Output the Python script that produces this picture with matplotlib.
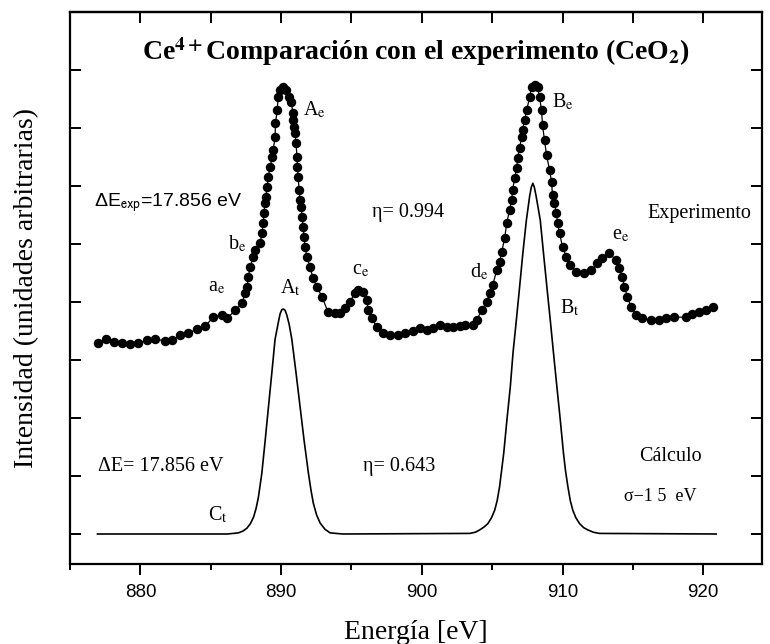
import matplotlib
matplotlib.use("Agg")
import matplotlib.pyplot as plt
from matplotlib.ticker import MultipleLocator

plt.rcParams['font.family'] = ['Liberation Serif', 'DejaVu Serif']

# experimental spectrum (eV, arbitrary intensity)
exp_energy = [876.95, 877.52, 878.09, 878.72, 879.29, 879.86, 880.50, 881.06, 881.77, 882.27,
              882.84, 883.40, 884.04, 884.61, 885.18, 885.82, 886.17, 886.74, 887.23, 887.45,
              887.59, 887.66, 887.80, 888.01, 888.16, 888.51, 888.65, 888.72, 888.78, 888.85,
              888.90, 889.01, 889.08, 889.22, 889.36, 889.43, 889.57, 889.60, 889.72, 889.79,
              889.93, 890.14, 890.35, 890.57, 890.71, 890.85, 890.88, 890.92, 890.99, 891.06,
              891.13, 891.16, 891.21, 891.28, 891.35, 891.42, 891.49, 891.56, 891.63, 891.70,
              891.84, 892.06, 892.27, 892.55, 892.91, 893.33, 893.83, 894.18, 894.54, 894.89,
              895.25, 895.46, 895.82, 896.10, 896.17, 896.45, 896.81, 897.23, 897.73, 898.30,
              898.79, 899.36, 899.86, 900.35, 900.78, 901.28, 901.77, 902.20, 902.70, 903.05,
              903.62, 903.90, 904.26, 904.61, 904.82, 905.04, 905.32, 905.53, 905.67, 905.89,
              906.03, 906.24, 906.38, 906.45, 906.60, 906.74, 906.81, 906.95, 907.09, 907.16,
              907.30, 907.45, 907.66, 907.80, 908.01, 908.23, 908.37, 908.51, 908.58, 908.72,
              908.87, 909.08, 909.22, 909.29, 909.43, 909.57, 909.65, 909.79, 910.00, 910.28,
              910.50, 910.99, 911.56, 912.06, 912.48, 912.84, 913.33, 913.83, 914.04, 914.26,
              914.40, 914.61, 914.89, 915.25, 915.67, 916.31, 916.88, 917.38, 917.94, 918.79,
              919.22, 919.72, 920.21, 920.71]
exp_intensity = [3.29, 3.36, 3.31, 3.29, 3.28, 3.29, 3.34, 3.36, 3.33, 3.34,
                 3.43, 3.47, 3.53, 3.59, 3.74, 3.78, 3.72, 3.86, 3.98, 4.16,
                 4.26, 4.43, 4.60, 4.78, 4.90, 5.02, 5.19, 5.36, 5.53, 5.71,
                 5.81, 5.98, 6.16, 6.33, 6.50, 6.62, 6.84, 7.09, 7.31, 7.53,
                 7.66, 7.71, 7.66, 7.53, 7.45, 7.26, 7.14, 7.02, 6.91, 6.74,
                 6.50, 6.33, 6.16, 5.93, 5.76, 5.64, 5.47, 5.29, 5.12, 4.95,
                 4.78, 4.60, 4.41, 4.26, 4.09, 3.83, 3.81, 3.81, 3.90, 4.00,
                 4.16, 4.21, 4.17, 4.03, 3.86, 3.72, 3.57, 3.47, 3.43, 3.43,
                 3.47, 3.50, 3.55, 3.52, 3.55, 3.60, 3.57, 3.57, 3.59, 3.60,
                 3.60, 3.69, 3.86, 4.00, 4.16, 4.29, 4.55, 4.69, 4.86, 5.10,
                 5.36, 5.59, 5.76, 5.93, 6.14, 6.31, 6.48, 6.66, 6.84, 6.97,
                 7.14, 7.31, 7.53, 7.71, 7.74, 7.71, 7.53, 7.31, 7.05, 6.79,
                 6.53, 6.28, 6.07, 5.84, 5.71, 5.53, 5.36, 5.19, 4.95, 4.78,
                 4.64, 4.52, 4.50, 4.55, 4.67, 4.76, 4.84, 4.72, 4.59, 4.43,
                 4.26, 4.09, 3.91, 3.78, 3.72, 3.69, 3.69, 3.72, 3.74, 3.74,
                 3.79, 3.83, 3.86, 3.91]

# calculated spectrum
calc_energy = [876.95, 884.00, 886.15, 886.60, 886.97, 887.28, 887.57, 887.82, 888.04, 888.22,
               888.39, 888.63, 888.87, 889.10, 889.34, 889.57, 889.81, 889.93, 890.05, 890.16,
               890.28, 890.40, 890.57, 890.76, 891.06, 891.35, 891.63, 891.94, 892.12, 892.29,
               892.52, 892.77, 893.12, 893.48, 893.90, 894.40, 903.40, 903.80, 904.11, 904.42,
               904.70, 904.95, 905.18, 905.36, 905.53, 905.82, 906.05, 906.29, 906.48, 906.72,
               906.95, 907.18, 907.43, 907.66, 907.78, 907.89, 908.00, 908.13, 908.42, 908.65,
               908.89, 909.13, 909.36, 909.60, 909.84, 910.07, 910.22, 910.38, 910.55, 910.73,
               910.95, 911.21, 911.50, 911.80, 912.20, 912.62, 920.92]
calc_intensity = [0.0, 0.0, 0.0, 0.01, 0.02, 0.05, 0.10, 0.18, 0.29, 0.44,
                  0.64, 1.05, 1.62, 2.19, 2.78, 3.36, 3.66, 3.80, 3.87, 3.88,
                  3.86, 3.78, 3.62, 3.36, 2.78, 2.19, 1.62, 1.05, 0.76, 0.53,
                  0.33, 0.19, 0.08, 0.02, 0.01, 0.0, 0.01, 0.03, 0.07, 0.12,
                  0.18, 0.28, 0.41, 0.58, 0.82, 1.39, 1.97, 2.54, 3.12, 3.69,
                  4.26, 4.84, 5.41, 5.82, 5.98, 6.05, 5.98, 5.82, 5.41, 4.84,
                  4.26, 3.69, 3.12, 2.54, 1.97, 1.39, 1.08, 0.82, 0.58, 0.41,
                  0.28, 0.18, 0.11, 0.07, 0.03, 0.01, 0.0]

fig = plt.figure(figsize=(7.7, 6.44), dpi=100)
ax = fig.add_axes([0.091, 0.124, 0.899, 0.857])

ax.plot(calc_energy, calc_intensity, color='black', lw=1.2)
ax.plot(exp_energy, exp_intensity, '-o', color='black', lw=0.9, markersize=5.8)

ax.set_xlim(875.0, 924.2)
ax.set_ylim(-0.52, 9.0)

for s in ax.spines.values():
    s.set_linewidth(1.6)

ax.xaxis.set_major_locator(MultipleLocator(10))
ax.xaxis.set_minor_locator(MultipleLocator(5))
ax.tick_params(axis='x', which='major', direction='out', length=8, width=1.4, pad=6,
               labelsize=13.5, labelfontfamily='Liberation Sans')
ax.tick_params(axis='x', which='minor', direction='out', length=4, width=1.4)
ax.set_yticks(range(9))
ax.tick_params(axis='y', direction='in', left=True, right=True, labelleft=False,
               length=8, width=1.4)

top = ax.secondary_xaxis('top')
top.set_xticks(range(880, 925, 5))
top.tick_params(direction='in', length=8, width=1.4, labeltop=False)
top.spines['top'].set_linewidth(1.6)

ax.set_xlabel('Energía [eV]', fontsize=20, labelpad=14)
ax.set_ylabel('Intensidad (unidades arbitrarias)', fontsize=20, labelpad=22)

ax.set_title(r'Ce$^{\mathbf{4+}}$Comparación con el experimento (CeO$_{\mathbf{2}}$)',
             fontsize=20, fontweight='bold', math_fontfamily='stix', y=0.898)


def label(x, y, s, size=14.5, **kw):
    kw.setdefault('math_fontfamily', 'stix')
    ax.text(x, y, s, fontsize=size, ha='left', va='center', **kw)


# peak labels
label(891.56, 7.31, r'A$_{\rm e}$')
label(886.24, 5.00, r'b$_{\rm e}$')
label(884.82, 4.26, r'a$_{\rm e}$')
label(895.04, 4.55, r'c$_{\rm e}$')
label(889.93, 4.24, r'A$_{\rm t}$')
label(909.22, 7.45, r'B$_{\rm e}$')
label(903.40, 4.52, r'd$_{\rm e}$')
label(909.79, 3.90, r'B$_{\rm t}$')
label(913.55, 5.16, r'e$_{\rm e}$')
label(884.82, 0.33, r'C$_{\rm t}$')

# annotations
label(876.70, 5.71, r'ΔE$_{\rm exp}$=17.856 eV', size=14, family='Liberation Sans',
      math_fontfamily='stixsans')
label(896.45, 5.55, 'η= 0.994')
label(916.03, 5.53, 'Experimento')
label(876.95, 1.16, 'ΔE= 17.856 eV')
label(895.82, 1.16, 'η= 0.643')
label(915.46, 1.33, 'Cálculo')
label(914.40, 0.64, 'σ−1 5  eV', size=13)

fig.savefig('out.png', dpi=100)
